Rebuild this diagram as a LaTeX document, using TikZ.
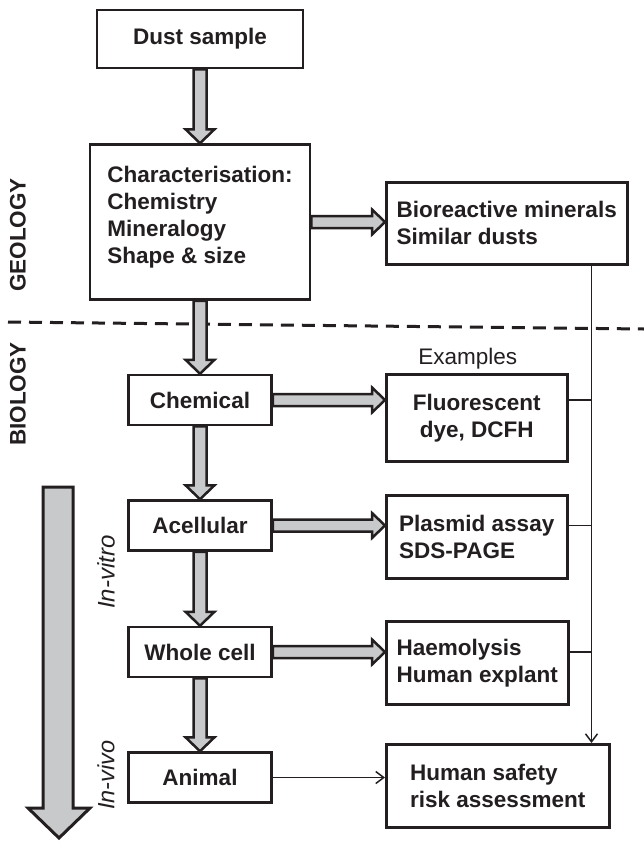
\documentclass[tikz,border=0pt]{standalone}
\usepackage{fontspec}
\setmainfont{Liberation Sans}
\usetikzlibrary{arrows.meta,positioning,calc}
\definecolor{ink}{RGB}{35,31,32}
\definecolor{shaft}{RGB}{200,201,203}

% broad grey arrows between boxes
\newcommand{\fatdown}[2]{%
  \path (#1.south) coordinate (fa) (#1.south |- #2.north) coordinate (fb);
  \filldraw[fat] ($(fa)+(-6.5,0)$) -- ($(fb)+(-6.5,-14)$) -- ($(fb)+(-14.5,-14)$) -- (fb)
    -- ($(fb)+(14.5,-14)$) -- ($(fb)+(6.5,-14)$) -- ($(fa)+(6.5,0)$) -- cycle;}
\newcommand{\fatright}[2]{%
  \path (#1.east) coordinate (fa) (#1.east -| #2.west) coordinate (fb);
  \filldraw[fat] ($(fa)+(0,-6)$) -- ($(fb)+(-13,-6)$) -- ($(fb)+(-13,-12.5)$) -- (fb)
    -- ($(fb)+(-13,12.5)$) -- ($(fb)+(-13,6)$) -- ($(fa)+(0,6)$) -- cycle;}

\begin{document}
\begin{tikzpicture}[x=1pt,y=-1pt,node distance=73pt,>={Straight Barb[length=8pt,width=12pt]}]

  \tikzstyle{box}=[rectangle,draw=ink,line width=2.5pt,fill=white,text=ink,inner sep=0pt,
                   font=\fontsize{22.5}{27}\selectfont\bfseries]
  \tikzstyle{stage}=[box,minimum width=143pt,minimum height=50pt]
  \tikzstyle{result}=[box,anchor=north west,align=left]
  \tikzstyle{fat}=[draw=ink,fill=shaft,line width=2.5pt]
  \tikzstyle{link}=[draw=ink,line width=1.5pt]
  \tikzstyle{side}=[text=ink,rotate=90,inner sep=0pt]

  \useasboundingbox (0,0) rectangle (644,841);

  % main column
  \node [box,minimum width=206pt,minimum height=58pt] (dust) at (200,39) {Dust sample};
  \node [box,minimum width=220pt,minimum height=155pt,align=left,below=74pt of dust] (char)
        {Characterisation:\\Chemistry\\Mineralogy\\Shape \& size\\[-13pt]\mbox{}};
  \node [stage,below=of char]       (chem)   {Chemical};
  \node [stage,below=of chem]       (acel)   {Acellular};
  \node [stage,below=74pt of acel]  (whole)  {Whole cell};
  \node [stage,below=of whole]      (animal) {Animal};

  % results column
  \node [result,minimum width=241pt,minimum height=82pt] (bio) at (385,181)
        {Bioreactive minerals\\Similar dusts};
  \node [result,align=center,minimum width=181pt,minimum height=87pt,
         label={[text=ink,xshift=-9pt,font=\fontsize{22.5}{27}\selectfont]above:Examples}] (fluor) at (385,373)
        {Fluorescent\\dye, DCFH};
  \node [result,minimum width=181pt,minimum height=83pt] (plasmid) at (385,494) {Plasmid assay\\SDS-PAGE};
  \node [result,minimum width=182pt,minimum height=83pt] (haemo) at (385,620) {Haemolysis\\Human explant};
  \node [result,minimum width=223pt,minimum height=83pt] (human) at (385,743) {Human safety\\risk assessment};

  % side labels
  \node [side,font=\fontsize{22.5}{27}\selectfont\bfseries] (geol) at (18,235) {GEOLOGY};
  \node [side,font=\fontsize{22.5}{27}\selectfont\bfseries] (biol) at (18,394) {BIOLOGY};
  \node [side,font=\fontsize{24}{28}\selectfont\itshape] (invitro) at (106,572) {In-vitro};
  \node [side,font=\fontsize{23.5}{28}\selectfont\itshape] (invivo) at (106,775) {In-vivo};

  % boundary between geology and biology
  \draw [ink,line width=3pt,dash pattern=on 13pt off 8pt] (8,322) -- (644,329);

  % in-vitro to in-vivo
  \filldraw [fat,line width=3pt] (43,487) -- (43,808) -- (28,808) -- (59,838) -- (90,808)
            -- (73,808) -- (73,487) -- cycle;

  \fatdown{dust}{char}
  \fatdown{char}{chem}
  \fatdown{chem}{acel}
  \fatdown{acel}{whole}
  \fatdown{whole}{animal}
  \fatright{char}{bio}
  \fatright{chem}{fluor}
  \fatright{acel}{plasmid}
  \fatright{whole}{haemo}

  % thin links to the assessment
  \coordinate (bus) at ($(bio.south east)+(-37,0)$);
  \draw [link,->] (bus) -- (bus |- human.north);
  \draw [link] (fluor.east |- chem.east) -- (bus |- chem.east);
  \draw [link] (plasmid.east |- acel.east) -- (bus |- acel.east);
  \draw [link] (haemo.east |- whole.east) -- (bus |- whole.east);
  \draw [link,->] (animal.east) -- (human.west |- animal.east);

\end{tikzpicture}
\end{document}
